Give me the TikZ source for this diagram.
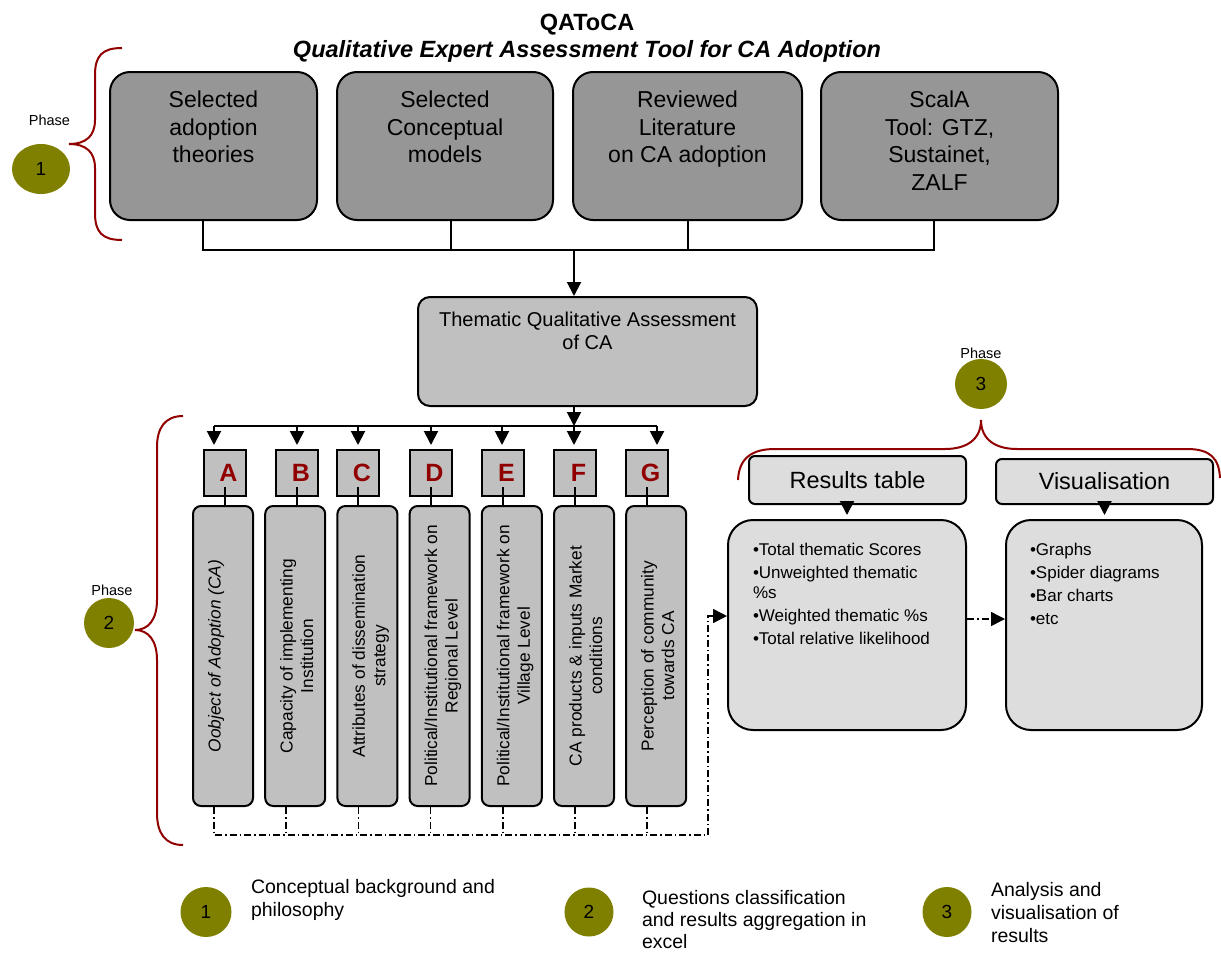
\documentclass[tikz,border=0pt]{standalone}
\usepackage{fontspec}
\setmainfont{Liberation Sans}
\usepackage{tikz}
\usetikzlibrary{arrows.meta, positioning, calc, shapes.geometric}
\tikzset{>={Triangle[length=14pt,width=14pt]}}
\definecolor{topgray}{RGB}{150,150,150}
\definecolor{midgray}{RGB}{192,192,192}
\definecolor{paleg}{RGB}{221,221,221}
\definecolor{phaseolive}{RGB}{128,128,0}
\definecolor{darkred}{RGB}{145,0,0}

\begin{document}
\begin{tikzpicture}[x=1pt, y=-1pt, line width=2pt,
    topbox/.style={draw, fill=topgray, rounded corners=20pt, minimum height=148pt, inner sep=0pt},
    toptxt/.style={inner sep=0pt, align=center, font=\fontsize{23}{27.5}\selectfont},
    midbox/.style={draw, fill=midgray, rounded corners=12pt, inner sep=0pt},
    letterbox/.style={draw, fill=midgray, minimum width=42pt, minimum height=46pt, inner sep=0pt,
        text=darkred, font=\fontsize{25}{30}\selectfont\bfseries},
    tallbox/.style={draw, fill=midgray, rounded corners=8pt, minimum width=60pt, minimum height=300pt, inner sep=0pt},
    talltxt/.style={inner sep=0pt, align=center, rotate=90, anchor=north, font=\fontsize{17.3}{20.5}\selectfont},
    hdbox/.style={draw, fill=paleg, rounded corners=6pt, minimum width=217pt, inner sep=0pt,
        font=\fontsize{23.5}{28}\selectfont},
    resbox/.style={draw, fill=paleg, rounded corners=25pt, minimum height=210pt, inner sep=0pt},
    bultxt/.style={inner sep=0pt, align=left, anchor=north west, font=\fontsize{17}{20}\selectfont},
    phase/.style={ellipse, fill=phaseolive, inner sep=0pt, font=\fontsize{19}{22}\selectfont},
    phaselbl/.style={inner sep=0pt, font=\fontsize{14.5}{17}\selectfont},
    legtxt/.style={inner sep=0pt, align=left, anchor=north west, font=\fontsize{19.5}{23}\selectfont},
    brace/.style={draw=darkred, line width=2pt},
    dd/.style={line width=1.5pt, dash pattern=on 7pt off 3pt on 1.5pt off 3pt}]
    \useasboundingbox (0,0) rectangle (1221,953);

    \node[inner sep=0pt, align=center, anchor=north, font=\fontsize{23.5}{27}\selectfont\bfseries] (title) at (587,13.2)
        {QAToCA\\\textit{Qualitative Expert Assessment Tool for CA Adoption}};

    % phase 1
    \node[topbox, minimum width=207pt] (adop) at (213.5,146) {};
    \node[topbox, minimum width=216pt] (conc) at (445,146) {};
    \node[topbox, minimum width=229pt] (lit) at (687.5,146) {};
    \node[topbox, minimum width=237pt] (scala) at (939.5,146) {};
    \node[toptxt, below=19pt of adop.north] (adopt) {Selected\\adoption\\theories};
    \node[toptxt, below=19pt of conc.north] (conct) {Selected\\Conceptual\\models};
    \node[toptxt, below=19pt of lit.north] (litt) {Reviewed\\Literature\\on CA adoption};
    \node[toptxt, below=19pt of scala.north] (scalat) {ScalA\\Tool: GTZ,\\Sustainet,\\ZALF};

    \coordinate (s1) at ([xshift=-10.5pt]adop.south);
    \coordinate (s2) at ([xshift=6pt]conc.south);
    \coordinate (s3) at (lit.south);
    \coordinate (s4) at ([xshift=-5.5pt]scala.south);
    \coordinate (bus1) at (574,250);
    \draw (s1) |- (s4 |- bus1) -- (s4);
    \draw (s2) -- (s2 |- bus1);
    \draw (s3) -- (s3 |- bus1);

    \node[midbox, minimum width=339pt, minimum height=109pt] (them) at (587.5,351.5) {};
    \node[inner sep=0pt, align=center, font=\fontsize{20}{23}\selectfont, below=15pt of them.north] (themt)
        {Thematic Qualitative Assessment\\of CA};
    \draw[->] (bus1) -- (bus1 |- them.north);

    % phase 2
    \coordinate (bus2) at (574,426);
    \draw[->] (them.south -| bus2) -- (bus2);
    \coordinate (ddc) at (708,835);
    \foreach \l/\bx/\lx/\ax/\txt in {
        A/223/224.5/214/{\itshape Oobject of Adoption (CA)},
        B/295.2/297/297/{Capacity of implementing\\Institution},
        C/367.4/358/358/{Attributes of dissemination\\strategy},
        D/439.6/430.5/431/{Political/Institutional framework on\\Regional Level},
        E/511.8/502.5/502/{Political/Institutional framework on\\Village Level},
        F/584/574.5/574/{CA products \& inputs Market\\conditions},
        G/656.2/646.5/657/{Perception of community\\towards CA}}
    {
        \node[tallbox] (b\l) at (\bx,656) {};
        \node[talltxt] (t\l) at ([xshift=15pt]b\l.west) {\txt};
        \node[letterbox] (l\l) at (\lx,473) {\hspace*{8pt}\l};
        \draw ([yshift=10pt]l\l.south) -- (l\l.south |- b\l.north);
        \coordinate (a\l) at (\ax,426);
        \draw[->, shorten >=4pt] (a\l) -- (a\l |- l\l.north);
        \draw[dd] ([xshift=-9pt]b\l.south) -- ++(0,29);
    }
    \draw (aA) -- (aG);

    % phase 3
    \node[hdbox, minimum height=48pt] (rh) at (857.5,480) {Results table};
    \node[hdbox, minimum height=45pt] (vh) at (1104.5,481.5) {Visualisation};
    \node[resbox, minimum width=238pt] (res) at (847,625) {};
    \node[resbox, minimum width=196pt] (vis) at (1104,625) {};
    \node[bultxt] (rest) at ([xshift=25pt,yshift=-23.5pt]res.north west)
        {\textbullet Total thematic Scores\\[3pt]
         \textbullet Unweighted thematic\\
         \%s\\[3pt]
         \textbullet Weighted thematic \%s\\[3pt]
         \textbullet Total relative likelihood};
    \node[bultxt] (vist) at ([xshift=24pt,yshift=-23.5pt]vis.north west)
        {\textbullet Graphs\\[3pt]
         \textbullet Spider diagrams\\[3pt]
         \textbullet Bar charts\\[3pt]
         \textbullet etc};
    \draw[->, shorten >=4pt] (rh.south -| res.north) -- (res.north);
    \draw[->, shorten >=4pt] (vh.south) -- (vh.south |- vis.north);
    \draw[dd, ->] ([xshift=-9pt]bA.south) |- (ddc) |- ([yshift=9pt]res.west);
    \draw[dd, ->] ([yshift=6pt]res.east) -- ([yshift=6pt]vis.west);

    % phases and braces
    \node[phaselbl] (ph1l) at (49.5,120) {Phase};
    \node[phase, minimum width=58pt, minimum height=50pt] (ph1) at (41,169) {1};
    \node[phaselbl] (ph2l) at (112,590) {Phase};
    \node[phase, minimum width=50pt, minimum height=50pt] (ph2) at (109,623) {2};
    \node[phaselbl] (ph3l) at (981,353) {Phase};
    \node[phase, minimum width=52pt, minimum height=50pt] (ph3) at (981,384) {3};
    \draw[brace] (122,48) .. controls (102,48) and (95,56) .. (95,75) -- (95,120)
        .. controls (95,136) and (86,144) .. (69,144) .. controls (86,144) and (95,152) .. (95,168)
        -- (95,213) .. controls (95,232) and (102,240) .. (122,240);
    \draw[brace] (183,416) .. controls (165,416) and (157,428) .. (157,447) -- (157,600)
        .. controls (157,620) and (148,630) .. (135,630) .. controls (148,630) and (157,640) .. (157,660)
        -- (157,813) .. controls (157,833) and (165,845) .. (183,845);
    \draw[brace] (738,480) .. controls (739,458) and (752,449) .. (775,449) -- (945,449)
        .. controls (966,449) and (981,440) .. (981,420) .. controls (981,440) and (996,449) .. (1017,449)
        -- (1187,449) .. controls (1210,449) and (1219,458) .. (1220,478);

    % legend
    \node[phase, minimum width=51pt, minimum height=50pt] (lg1) at (206,912) {1};
    \node[phase, minimum width=49pt, minimum height=49pt] (lg2) at (589,912) {2};
    \node[phase, minimum width=49pt, minimum height=50pt] (lg3) at (947,912) {3};
    \node[legtxt] (lg1t) at (250,878) {Conceptual background and\\philosophy};
    \node[legtxt, font=\fontsize{19.5}{22}\selectfont] (lg2t) at (641,889) {Questions classification\\and results aggregation in\\excel};
    \node[legtxt] (lg3t) at (990,881) {Analysis and\\visualisation of\\results};
\end{tikzpicture}
\end{document}
